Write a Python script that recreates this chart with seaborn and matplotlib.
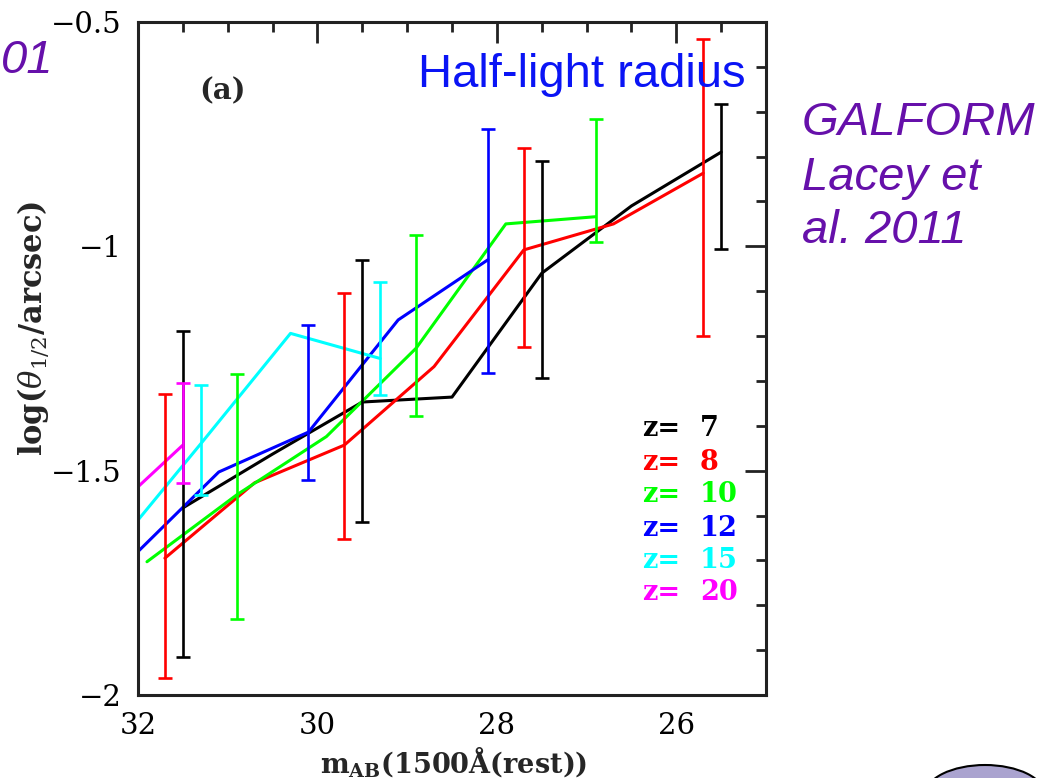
import numpy as np
import pandas as pd
import matplotlib
matplotlib.use("Agg")
import matplotlib.pyplot as plt
import seaborn as sns
from matplotlib.ticker import MultipleLocator, FuncFormatter
from matplotlib.patches import Ellipse

# ---------------- data ----------------
redshifts = ["7", "8", "10", "12", "15", "20"]
colors = ["#000000", "#ff0000", "#00ff00", "#0000ff", "#00ffff", "#ff00ff"]

mag_z7 = [31.5, 30.5, 29.5, 28.5, 27.5, 26.5, 25.5]
logr_z7 = [-1.583, -1.463, -1.347, -1.336, -1.060, -0.910, -0.790]
mag_z8 = [31.7, 30.7, 29.7, 28.7, 27.7, 26.7, 25.7]
logr_z8 = [-1.695, -1.527, -1.443, -1.268, -1.008, -0.950, -0.837]
mag_z10 = [31.9, 30.9, 29.9, 28.9, 27.9, 26.9]
logr_z10 = [-1.703, -1.554, -1.424, -1.227, -0.950, -0.934]
mag_z12 = [32.1, 31.1, 30.1, 29.1, 28.1]
logr_z12 = [-1.700, -1.503, -1.414, -1.164, -1.030]
mag_z15 = [32.3, 31.3, 30.3, 29.3]
logr_z15 = [-1.683, -1.440, -1.194, -1.250]
mag_z20 = [32.5, 31.5]
logr_z20 = [-1.629, -1.443]

# error bars: magnitude, lower end, upper end
err_mag_z7 = [31.5, 29.5, 27.5, 25.5]
err_lo_z7 = [-1.915, -1.614, -1.293, -1.006]
err_hi_z7 = [-1.188, -1.030, -0.810, -0.683]
err_mag_z8 = [31.7, 29.7, 27.7, 25.7]
err_lo_z8 = [-1.961, -1.652, -1.224, -1.200]
err_hi_z8 = [-1.329, -1.104, -0.781, -0.539]
err_mag_z10 = [30.9, 28.9, 26.9]
err_lo_z10 = [-1.831, -1.378, -0.990]
err_hi_z10 = [-1.285, -0.975, -0.717]
err_mag_z12 = [30.1, 28.1]
err_lo_z12 = [-1.521, -1.283]
err_hi_z12 = [-1.175, -0.739]
err_mag_z15 = [31.3, 29.3]
err_lo_z15 = [-1.554, -1.331]
err_hi_z15 = [-1.309, -1.080]
err_mag_z20 = [31.5]
err_lo_z20 = [-1.527]
err_hi_z20 = [-1.305]

x_ticks = [32, 30, 28, 26]
y_ticks = [-2, -1.5, -1, -0.5]

series = [
    ("7", mag_z7, logr_z7, err_mag_z7, err_lo_z7, err_hi_z7),
    ("8", mag_z8, logr_z8, err_mag_z8, err_lo_z8, err_hi_z8),
    ("10", mag_z10, logr_z10, err_mag_z10, err_lo_z10, err_hi_z10),
    ("12", mag_z12, logr_z12, err_mag_z12, err_lo_z12, err_hi_z12),
    ("15", mag_z15, logr_z15, err_mag_z15, err_lo_z15, err_hi_z15),
    ("20", mag_z20, logr_z20, err_mag_z20, err_lo_z20, err_hi_z20),
]

rows = []
for z, m, r, *_ in series:
    for mi, ri in zip(m, r):
        rows.append({"z": z, "mag": mi, "logr": ri})
df = pd.DataFrame(rows)
palette = dict(zip(redshifts, colors))

# ---------------- style ----------------
sns.set_style("white")
plt.rcParams["font.family"] = ["DejaVu Serif"]
plt.rcParams["mathtext.fontset"] = "dejavuserif"

W, H = 1043, 778
fig = plt.figure(figsize=(W / 100, H / 100), dpi=100)
ax = fig.add_axes([138 / W, 1 - 695 / H, 628 / W, 673 / H])

sns.lineplot(data=df, x="mag", y="logr", hue="z", hue_order=redshifts,
             palette=palette, estimator=None, sort=False, legend=False,
             linewidth=2.2, ax=ax)

for z, m, r, em, lo, hi in series:
    lo = np.array(lo)
    hi = np.array(hi)
    ax.errorbar(em, lo, yerr=[np.zeros_like(lo), hi - lo], fmt="none",
                ecolor=palette[z], elinewidth=1.9, capsize=5, capthick=1.9)

ax.set_xlim(32, 25)
ax.set_ylim(-2, -0.5)
ax.set_xticks(x_ticks)
ax.set_yticks(y_ticks)
ax.xaxis.set_minor_locator(MultipleLocator(0.5))
ax.yaxis.set_minor_locator(MultipleLocator(0.1))
ax.yaxis.set_major_formatter(FuncFormatter(lambda v, p: ("%g" % v).replace("-", "\u2212")))
ax.xaxis.set_major_formatter(FuncFormatter(lambda v, p: "%g" % v))

for s in ax.spines.values():
    s.set_linewidth(2.2)
    s.set_color("#222222")
    s.set_visible(True)

ax.tick_params(which="both", direction="in", top=True, right=True,
               width=2, color="#222222", labelcolor="black")
ax.tick_params(which="major", length=15)
ax.tick_params(which="minor", length=7.5)
ax.tick_params(axis="x", which="major", pad=12, labelsize=21)
ax.tick_params(axis="y", which="major", pad=12, labelsize=21)

ax.set_xlabel(r"m$_{\mathbf{AB}}$(1500Å(rest))", fontsize=19.5, fontweight="bold")
ax.xaxis.set_label_coords(0.503, -0.074)
ax.set_ylabel(r"log($\theta_{1/2}$/arcsec)", fontsize=22, fontweight="bold")
ax.yaxis.set_label_coords(-0.138, 0.545)

# panel tag
fig.text(222 / W, 1 - 91 / H, "(a)", fontsize=21, fontweight="bold",
         ha="center", va="center")

# legend as coloured text
leg_y = [428, 462, 495, 528, 560, 593]
for z, c, y in zip(redshifts, colors, leg_y):
    fig.text(642 / W, 1 - y / H, "z=", color=c, fontsize=19.5, fontweight="bold",
             ha="left", va="center")
    fig.text(700 / W, 1 - y / H, z, color=c, fontsize=19.5, fontweight="bold",
             ha="left", va="center")

# slide annotations
sans = ["Liberation Sans", "DejaVu Sans"]
fig.text(418 / W, 1 - 87 / H, "Half-light radius", color="#0a14f5",
         fontsize=34, family=sans, ha="left", va="baseline")
purple = "#6610aa"
for txt, yb in zip(["GALFORM", "Lacey et", "al. 2011"], [135, 190, 243]):
    fig.text(802 / W, 1 - yb / H, txt, color=purple, fontsize=34,
             family=sans, style="italic", ha="left", va="baseline")
fig.text(1 / W, 1 - 73 / H, "01", color=purple, fontsize=34,
         family=sans, style="italic", ha="left", va="baseline")

# logo fragment bottom right
ell = Ellipse((985 / W, 1 - 795 / H), 120 / W, 60 / H, transform=fig.transFigure,
              facecolor="#aaa3cf", edgecolor="black", linewidth=1.5)
fig.patches.append(ell)

fig.savefig("out.png", dpi=100)
